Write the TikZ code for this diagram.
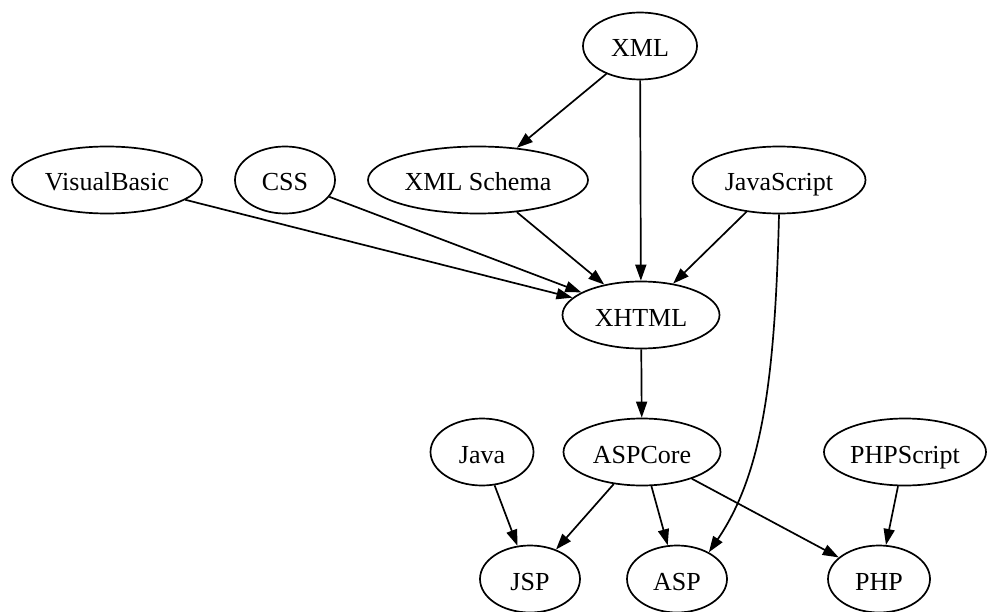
\documentclass[tikz,border=0pt]{standalone}
\usepackage{fontspec}
\setmainfont{Liberation Serif}
\usetikzlibrary{shapes.geometric,arrows.meta}
\begin{document}
\begin{tikzpicture}[x=1pt,y=-1pt,
  vertex/.style={draw,ellipse,line width=1.7pt,inner sep=0pt,
    minimum height=67pt,text height=23pt,text depth=1pt,
    font=\fontsize{26}{30}\selectfont},
  arr/.style={line width=1.7pt,-{Triangle[length=16pt,width=11pt]}}]
\useasboundingbox (0,0) rectangle (987,612);

% top row
\node[vertex,minimum width=114pt] (xml) at (640,46) {XML};

% second row
\node[vertex,minimum width=190pt] (vb)  at (107,180) {VisualBasic};
\node[vertex,minimum width=100pt] (css) at (285,180) {CSS};
\node[vertex,minimum width=220pt] (xsd) at (478,180) {XML Schema};
\node[vertex,minimum width=173pt] (js)  at (779,180) {JavaScript};

% middle
\node[vertex,minimum width=157pt] (xhtml) at (641,315) {XHTML};

% fourth row
\node[vertex,minimum width=103pt] (java)    at (482,452) {Java};
\node[vertex,minimum width=157pt] (aspcore) at (642,452) {ASPCore};
\node[vertex,minimum width=162pt] (phps)    at (905,452) {PHPScript};

% bottom row
\node[vertex,minimum width=100pt] (jsp) at (530,579) {JSP};
\node[vertex,minimum width=100pt] (asp) at (677,579) {ASP};
\node[vertex,minimum width=102pt] (php) at (879,579) {PHP};

% dependencies
\draw[arr] (xml) -- (xsd);
\draw[arr] (xml) -- (xhtml);
\draw[arr] (vb) -- (xhtml);
\draw[arr] (css) -- (xhtml);
\draw[arr] (xsd) -- (xhtml);
\draw[arr] (js) -- (xhtml);
\draw[arr] (js.south) .. controls +(-4,167) and +(53,-78) .. (asp.40);
\draw[arr] (xhtml) -- (aspcore);
\draw[arr] (java) -- (jsp);
\draw[arr] (aspcore) -- (jsp);
\draw[arr] (aspcore) -- (asp);
\draw[arr] (aspcore) -- (php);
\draw[arr] (phps) -- (php);
\end{tikzpicture}
\end{document}
